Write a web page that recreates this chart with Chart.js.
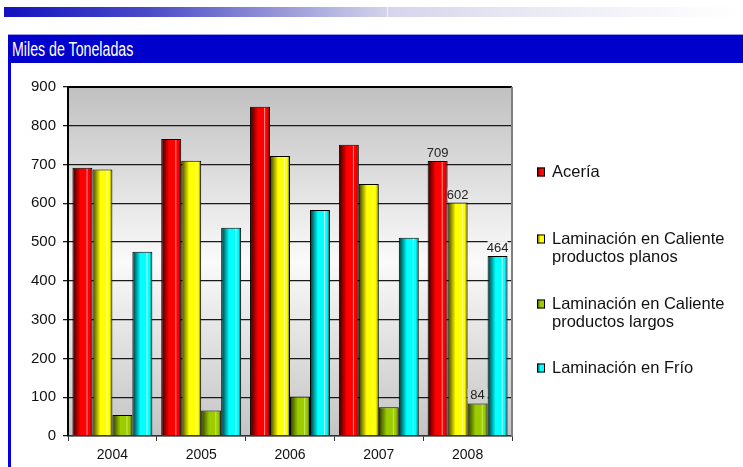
<!DOCTYPE html>
<html>
<head>
<meta charset="utf-8">
<script src="https://cdn.jsdelivr.net/npm/chart.js@4/dist/chart.umd.min.js"></script>
<style>
  html, body { margin: 0; padding: 0; background: #fff; width: 743px; height: 467px; overflow: hidden; }
  #banner { position: absolute; left: 4px; top: 7px; width: 739px; height: 10px;
    background: linear-gradient(to right, #1212c0 0%, #4c4cc8 20%, #9a9ad8 38%, #d4d4ec 52%, #e8e8f4 70%, #fafafc 92%, #ffffff 100%); }
  #banner-split { position: absolute; left: 387px; top: 7px; width: 1px; height: 10px; background: #f4f4fa; }
  #title { position: absolute; left: 8px; top: 34px; width: 735px; height: 29px; box-sizing: border-box;
    background: #0000cc; border-top: 1px solid #9a9af0; }
  #title span { position: absolute; left: 4px; top: 4px; color: #fff; white-space: nowrap;
    font: 20px/20px "Liberation Sans", Arial, sans-serif; transform: scaleX(0.71); transform-origin: 0 0; }
  #rule { position: absolute; left: 8px; top: 63px; width: 3px; height: 404px; background: #0000ee; }
  #wrap { position: absolute; left: 0; top: 0; width: 743px; height: 467px; }
</style>
</head>
<body>
<div id="banner"></div>
<div id="banner-split"></div>
<div id="title"><span>Miles de Toneladas</span></div>
<div id="rule"></div>
<div id="wrap"><canvas id="c" width="743" height="467"></canvas></div>
<script>
// Production by process, thousands of tonnes
const years = ['2004', '2005', '2006', '2007', '2008'];
const aceria = [692, 766, 849, 751, 709];
const calientePlanos = [687, 710, 722, 650, 602];
const calienteLargos = [54, 66, 102, 74, 84];
const frio = [475, 537, 583, 511, 464];
const seriesNames = [
  ['Acería'],
  ['Laminación en Caliente', 'productos planos'],
  ['Laminación en Caliente', 'productos largos'],
  ['Laminación en Frío']
];
const yMin = 0, yMax = 900, yStep = 100;
const labelledYears = ['2008'];

// cylinder shading for each series: dark left side, bright body, highlight, dark right edge
const shades = [
  { dark: '#300000', base: '#ff0000', light: '#ff9090', edge: '#5a0000' },
  { dark: '#3c3c00', base: '#ffff00', light: '#ffffb0', edge: '#505000' },
  { dark: '#2c3a00', base: '#9ccc00', light: '#c8e860', edge: '#3a4800' },
  { dark: '#003030', base: '#00ffff', light: '#c0ffff', edge: '#004040' }
];

const FONT = '"Liberation Sans", Arial, sans-serif';

function cylinder(ctx, x0, x1, s) {
  const g = ctx.createLinearGradient(x0, 0, x1, 0);
  g.addColorStop(0, s.dark);
  g.addColorStop(0.4, s.base);
  g.addColorStop(0.68, s.base);
  g.addColorStop(0.73, s.light);
  g.addColorStop(0.78, s.base);
  g.addColorStop(0.86, s.base);
  g.addColorStop(1, s.edge);
  return g;
}

function plotBackground(ctx, area) {
  const g = ctx.createLinearGradient(0, area.top, 0, area.bottom);
  g.addColorStop(0, '#c0c0c0');
  g.addColorStop(0.5, '#fafafa');
  g.addColorStop(1, '#c4c4c4');
  return g;
}

const panelPlugin = {
  id: 'panel',
  beforeDraw(chart) {
    const { ctx, chartArea: a } = chart;
    ctx.save();
    ctx.fillStyle = plotBackground(ctx, a);
    ctx.fillRect(a.left, a.top, a.right - a.left, a.bottom - a.top);
    ctx.restore();
  },
  beforeDatasetDraw(chart, args) {
    const s = shades[args.index];
    args.meta.data.forEach(el => {
      const x0 = el.x - el.width / 2;
      el.options = Object.assign({}, el.options, {
        backgroundColor: cylinder(chart.ctx, x0, x0 + el.width, s)
      });
    });
  },
  afterDatasetsDraw(chart) {
    const { ctx, chartArea: a } = chart;
    ctx.save();
    // frame: dark top edge, grey right edge
    ctx.strokeStyle = '#000';
    ctx.lineWidth = 2;
    ctx.beginPath(); ctx.moveTo(a.left, a.top); ctx.lineTo(a.right, a.top); ctx.stroke();
    ctx.strokeStyle = '#808080';
    ctx.beginPath(); ctx.moveTo(a.right, a.top); ctx.lineTo(a.right, a.bottom); ctx.stroke();

    // value labels for the selected years, on a patch of panel colour above the bar
    ctx.font = '13px ' + FONT;
    ctx.textAlign = 'center';
    ctx.textBaseline = 'alphabetic';
    const bg = plotBackground(ctx, a);
    chart.data.datasets.forEach((ds, di) => {
      const meta = chart.getDatasetMeta(di);
      chart.data.labels.forEach((lab, i) => {
        if (!labelledYears.includes(lab)) return;
        const el = meta.data[i];
        const txt = String(ds.data[i]);
        const base = el.y - 4;
        ctx.fillStyle = bg;
        ctx.fillRect(el.x - el.width / 2, base - 11, el.width, 13);
        ctx.fillStyle = '#222';
        ctx.fillText(txt, el.x, base);
      });
    });
    ctx.restore();
  },
  afterDraw(chart, args, opts) {
    const { ctx } = chart;
    ctx.save();
    ctx.font = opts.fontSize + 'px ' + FONT;
    ctx.textAlign = 'left';
    ctx.textBaseline = 'middle';
    chart.data.datasets.forEach((ds, di) => {
      const y = opts.rowY[di];
      const x = opts.markerX;
      ctx.fillStyle = cylinder(ctx, x, x + opts.markerW, shades[di]);
      ctx.fillRect(x, y - opts.markerH / 2, opts.markerW, opts.markerH);
      ctx.strokeStyle = '#000';
      ctx.lineWidth = 1;
      ctx.strokeRect(x + 0.5, y - opts.markerH / 2 + 0.5, opts.markerW - 1, opts.markerH - 1);
      ctx.fillStyle = '#111';
      seriesNames[di].forEach((line, li) => {
        ctx.fillText(line, opts.textX, y + li * opts.lineGap);
      });
    });
    ctx.restore();
  }
};

new Chart(document.getElementById('c'), {
  type: 'bar',
  data: {
    labels: years,
    datasets: [aceria, calientePlanos, calienteLargos, frio].map((d, i) => ({
      label: seriesNames[i].join(' '),
      data: d,
      backgroundColor: shades[i].base,
      borderColor: '#000',
      borderWidth: 1,
      categoryPercentage: 0.9,
      barPercentage: 1.0
    }))
  },
  options: {
    responsive: false,
    animation: false,
    devicePixelRatio: 1,
    layout: { padding: { left: 0, top: 87, right: 231, bottom: 0 } },
    plugins: {
      legend: { display: false },
      tooltip: { enabled: false },
      panel: { rowY: [172, 239, 304, 368], lineGap: 18.5, markerX: 537, markerW: 8, markerH: 9, textX: 552, fontSize: 16.5 }
    },
    scales: {
      x: {
        afterFit(scale) { scale.height = 31; },
        grid: { drawOnChartArea: false, drawTicks: true, tickLength: 5, color: '#333', offset: true },
        border: { display: true, color: '#333', width: 1.5 },
        ticks: { color: '#111', font: { family: FONT, size: 14 }, padding: 6 }
      },
      y: {
        min: yMin, max: yMax,
        afterFit(scale) { scale.width = 68; },
        grid: { color: '#1a1a1a', lineWidth: 1.3, tickLength: 5 },
        border: { display: true, color: '#000', width: 2 },
        ticks: { stepSize: yStep, color: '#111', font: { family: FONT, size: 15 }, padding: 7 }
      }
    }
  },
  plugins: [panelPlugin]
});
</script>
</body>
</html>
